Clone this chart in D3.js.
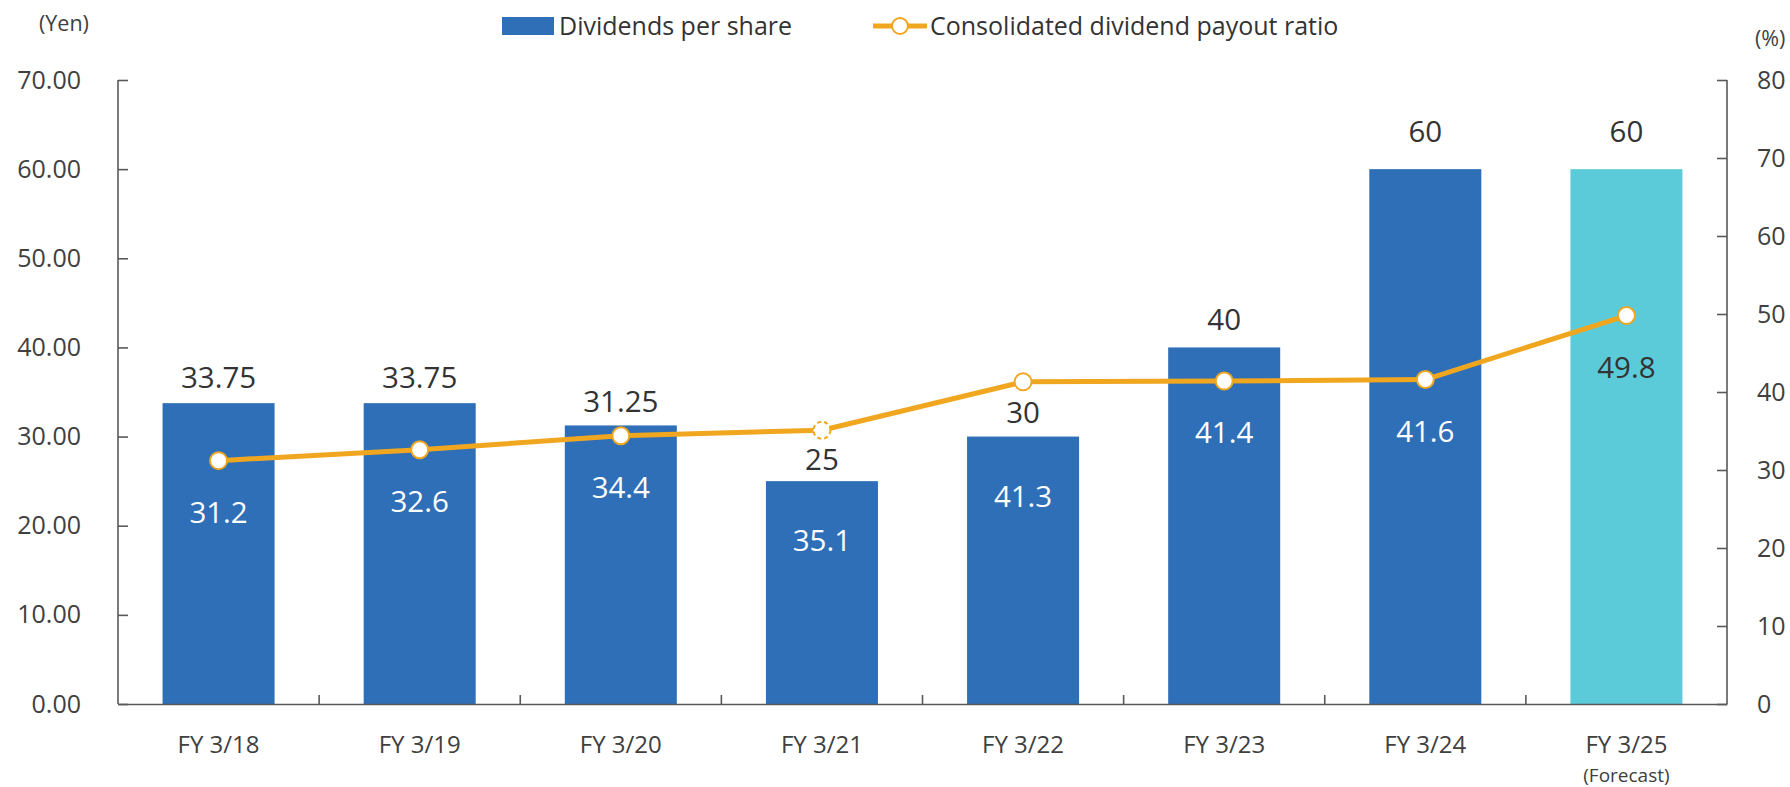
<!DOCTYPE html>
<html>
<head>
<meta charset="utf-8">
<script src="https://cdn.jsdelivr.net/npm/d3@7"></script>
<style>
  html, body { margin: 0; padding: 0; background: #fff; }
  svg { display: block; font-family: "Open Sans", "Noto Sans", sans-serif; }
</style>
</head>
<body>
<svg id="chart" width="1790" height="787"></svg>
<script>
// ---- data ----
const categories = ["FY 3/18", "FY 3/19", "FY 3/20", "FY 3/21", "FY 3/22", "FY 3/23", "FY 3/24", "FY 3/25"];
const subLabels = ["", "", "", "", "", "", "", "(Forecast)"];
const dividends = [33.75, 33.75, 31.25, 25, 30, 40, 60, 60];
const dividendLabels = ["33.75", "33.75", "31.25", "25", "30", "40", "60", "60"];
const payoutRatio = [31.2, 32.6, 34.4, 35.1, 41.3, 41.4, 41.6, 49.8];
const payoutLabels = ["31.2", "32.6", "34.4", "35.1", "41.3", "41.4", "41.6", "49.8"];
const isForecast = [false, false, false, false, false, false, false, true];
const dashedMarker = [false, false, false, true, false, false, false, false];
const leftTicks = [0, 10, 20, 30, 40, 50, 60, 70];
const rightTicks = [0, 10, 20, 30, 40, 50, 60, 70, 80];
const seriesNames = ["Dividends per share", "Consolidated dividend payout ratio"];

// ---- styles ----
const barColor = "#2F6FB7";
const forecastColor = "#5BCBD9";
const lineColor = "#F0A71F";
const axisColor = "#595959";
const textColor = "#333333";

const svg = d3.select("#chart");
const plotL = 118, plotR = 1727, plotT = 80, plotB = 704;

const x = d3.scaleBand().domain(categories).range([plotL, plotR]).paddingInner(0.443).paddingOuter(0.2215);
const yL = d3.scaleLinear().domain([0, 70]).range([plotB, plotT]);
const yR = d3.scaleLinear().domain([0, 80]).range([plotB, plotT]);

// bars
svg.append("g").selectAll("rect").data(categories).join("rect")
  .attr("x", d => x(d))
  .attr("width", x.bandwidth())
  .attr("y", (d, i) => yL(dividends[i]))
  .attr("height", (d, i) => yL(0) - yL(dividends[i]))
  .attr("fill", (d, i) => isForecast[i] ? forecastColor : barColor);

// left axis
const gL = svg.append("g").attr("transform", `translate(${plotL},0)`)
  .call(d3.axisLeft(yL).tickValues(leftTicks).tickSize(-10).tickPadding(37).tickFormat(d3.format(".2f")));
// right axis
const gR = svg.append("g").attr("transform", `translate(${plotR},0)`)
  .call(d3.axisRight(yR).tickValues(rightTicks).tickSize(-10).tickPadding(30).tickFormat(d3.format("d")));
// bottom axis
const gB = svg.append("g").attr("transform", `translate(0,${plotB})`)
  .call(d3.axisBottom(x).tickSize(0).tickPadding(0).tickFormat(""));

[gL, gR, gB].forEach(g => {
  g.select(".domain").attr("stroke", axisColor).attr("stroke-width", 1.6);
  g.selectAll(".tick line").attr("stroke", axisColor).attr("stroke-width", 1.6);
  g.selectAll(".tick text").attr("fill", "#404040").style("font-size", "25px")
    .style("font-family", "'Open Sans', sans-serif");
});
gL.select(".domain").attr("d", `M0,${plotT}V${plotB}`);
gR.select(".domain").attr("d", `M0,${plotT}V${plotB}`);

// category separator ticks (inward)
const step = x.step();
const sepTicks = d3.range(1, categories.length).map(k => plotL + k * step);
svg.append("g").selectAll("line").data(sepTicks).join("line")
  .attr("x1", d => d).attr("x2", d => d)
  .attr("y1", plotB).attr("y2", plotB - 9)
  .attr("stroke", axisColor).attr("stroke-width", 1.6);

// category labels
const catG = svg.append("g").attr("fill", "#404040").attr("text-anchor", "middle");
catG.selectAll("text.cat").data(categories).join("text").attr("class", "cat")
  .attr("x", d => x(d) + x.bandwidth() / 2)
  .attr("y", 753)
  .style("font-size", "24px")
  .text(d => d);
catG.selectAll("text.sub").data(subLabels).join("text").attr("class", "sub")
  .attr("x", (d, i) => x(categories[i]) + x.bandwidth() / 2)
  .attr("y", 782)
  .style("font-size", "19px")
  .text(d => d);

// line
const cx = i => x(categories[i]) + x.bandwidth() / 2;
const line = d3.line().x((d, i) => cx(i)).y(d => yR(d));
svg.append("path").datum(payoutRatio)
  .attr("d", line).attr("fill", "none")
  .attr("stroke", lineColor).attr("stroke-width", 5).attr("stroke-linejoin", "round");

svg.append("g").selectAll("circle").data(payoutRatio).join("circle")
  .attr("cx", (d, i) => cx(i)).attr("cy", d => yR(d)).attr("r", 8.5)
  .attr("fill", "#fff").attr("stroke", lineColor).attr("stroke-width", 2)
  .attr("stroke-dasharray", (d, i) => dashedMarker[i] ? "4,3" : null);

// dividend labels (gap above bar grows slightly with bar height)
svg.append("g").attr("text-anchor", "middle").selectAll("text").data(dividendLabels).join("text")
  .attr("x", (d, i) => cx(i))
  .attr("y", (d, i) => yL(dividends[i]) - 0.05 * (yL(0) - yL(dividends[i])))
  .attr("fill", textColor)
  .style("font-size", "29.5px")
  .text(d => d);

// payout labels
svg.append("g").attr("text-anchor", "middle").selectAll("text").data(payoutLabels).join("text")
  .attr("x", (d, i) => cx(i))
  .attr("y", (d, i) => Math.max(yR(payoutRatio[i]) + 62, yL(dividends[i]) + 70))
  .attr("fill", (d, i) => isForecast[i] ? textColor : "#fff")
  .style("font-size", "29.5px")
  .text(d => d);

// unit labels
svg.append("text").attr("x", 39).attr("y", 31).attr("fill", "#404040").style("font-size", "21.5px").text("(Yen)");
svg.append("text").attr("x", 1755).attr("y", 46).attr("fill", "#404040").style("font-size", "21.5px").text("(%)");

// legend
const lg = svg.append("g");
lg.append("rect").attr("x", 502).attr("y", 17).attr("width", 52).attr("height", 18).attr("fill", barColor);
lg.append("text").attr("x", 559).attr("y", 35).attr("fill", textColor).style("font-size", "25px").text(seriesNames[0]);
lg.append("line").attr("x1", 873).attr("x2", 927).attr("y1", 26).attr("y2", 26)
  .attr("stroke", lineColor).attr("stroke-width", 5);
lg.append("circle").attr("cx", 900).attr("cy", 26).attr("r", 8)
  .attr("fill", "#fff").attr("stroke", lineColor).attr("stroke-width", 2);
lg.append("text").attr("x", 930).attr("y", 35).attr("fill", textColor).style("font-size", "25px").text(seriesNames[1]);
</script>
</body>
</html>
